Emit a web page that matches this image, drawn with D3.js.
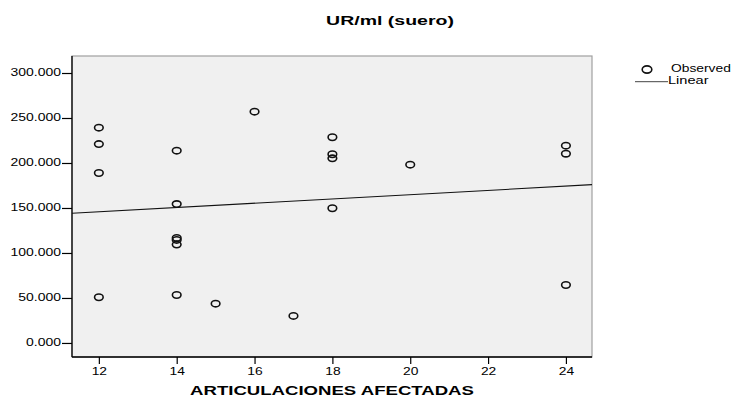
<!DOCTYPE html>
<html>
<head>
<meta charset="utf-8">
<script src="https://cdn.jsdelivr.net/npm/d3@7"></script>
<style>
  html, body { margin: 0; padding: 0; background: #fff; }
  svg { display: block; font-family: "Liberation Sans", Arial, sans-serif; }
</style>
</head>
<body>
<svg id="chart" width="734" height="397"></svg>
<script>
// ---- data ----
const articulaciones = [12, 12, 12, 12, 14, 14, 14, 14, 14, 14, 15, 16, 17, 18, 18, 18, 18, 20, 24, 24, 24];
const urMl = [239.2, 221.0, 188.9, 50.8, 213.7, 154.4, 116.7, 114.5, 109.3, 53.3, 43.7, 257.0, 30.0, 228.6, 209.7, 205.2, 149.7, 198.1, 219.2, 210.3, 64.4];
const xTicks = [12, 14, 16, 18, 20, 22, 24];
const yTicks = [0, 50, 100, 150, 200, 250, 300];
const linearIntercept = 117.2;
const linearSlope = 2.38;
const titleText = "UR/ml (suero)";
const xLabelText = "ARTICULACIONES AFECTADAS";
const legendLabels = ["Observed", "Linear"];

// ---- layout ----
const svg = d3.select("#chart");
const plot = { left: 72, right: 592, top: 56, bottom: 357 };
const xDomain = [11.31, 24.67];
const yDomain = [-15.6, 318.9];
const x = d3.scaleLinear().domain(xDomain).range([plot.left, plot.right]);
const y = d3.scaleLinear().domain(yDomain).range([plot.bottom, plot.top]);

// plot background
svg.append("rect")
  .attr("x", plot.left).attr("y", plot.top)
  .attr("width", plot.right - plot.left).attr("height", plot.bottom - plot.top)
  .attr("fill", "#f0f0f0")
  .attr("stroke", "#a0a0a0").attr("stroke-width", 1.2);

// axes
const fmt = d3.format(".3f");
const yAxis = svg.append("g")
  .attr("transform", `translate(${plot.left},0)`)
  .call(d3.axisLeft(y).tickValues(yTicks).tickFormat(fmt).tickSize(10).tickSizeOuter(0));
yAxis.select(".domain").attr("stroke", "#000").attr("stroke-width", 1.3)
  .attr("d", `M0,${plot.top}V${plot.bottom}`);
yAxis.selectAll(".tick line").attr("stroke", "#000").attr("stroke-width", 1.2);
yAxis.selectAll(".tick text")
  .attr("font-size", 10).attr("fill", "#000")
  .attr("x", 0).attr("dy", "0.22em")
  .attr("transform", "translate(-11,0) scale(1.4,1)");

const xAxis = svg.append("g")
  .attr("transform", `translate(0,${plot.bottom})`)
  .call(d3.axisBottom(x).tickValues(xTicks).tickFormat(d3.format("d")).tickSize(7).tickSizeOuter(0));
xAxis.select(".domain").attr("stroke", "#000").attr("stroke-width", 1.3)
  .attr("d", `M${plot.left},0H${plot.right}`);
xAxis.selectAll(".tick line").attr("stroke", "#000").attr("stroke-width", 1.2);
xAxis.selectAll(".tick text")
  .attr("font-size", 10).attr("fill", "#000")
  .attr("y", 0).attr("dy", 0)
  .attr("transform", "translate(0,18) scale(1.38,1)");

// regression line
const lineGen = d3.line().x(d => x(d)).y(d => y(linearIntercept + linearSlope * d));
svg.append("path")
  .datum(xDomain)
  .attr("d", lineGen)
  .attr("fill", "none").attr("stroke", "#111").attr("stroke-width", 1.1);

// observed points
svg.append("g").selectAll("ellipse")
  .data(d3.zip(articulaciones, urMl))
  .join("ellipse")
  .attr("cx", d => x(d[0])).attr("cy", d => y(d[1]))
  .attr("rx", 4.3).attr("ry", 3.2)
  .attr("fill", "none").attr("stroke", "#111").attr("stroke-width", 1.6);

// title
svg.append("text")
  .attr("transform", "translate(390,25) scale(1.5,1)")
  .attr("text-anchor", "middle")
  .attr("font-size", 13).attr("font-weight", "bold").attr("fill", "#000")
  .text(titleText);

// x label
svg.append("text")
  .attr("transform", `translate(${(plot.left + plot.right) / 2},395) scale(1.43,1)`)
  .attr("text-anchor", "middle")
  .attr("font-size", 13).attr("font-weight", "bold").attr("fill", "#000")
  .text(xLabelText);

// legend
const lg = svg.append("g");
lg.append("ellipse").attr("cx", 647).attr("cy", 69.5).attr("rx", 4.8).attr("ry", 3.6)
  .attr("fill", "none").attr("stroke", "#111").attr("stroke-width", 1.6);
lg.append("text").attr("transform", "translate(671,72.3) scale(1.38,1)")
  .attr("font-size", 10).attr("fill", "#000").text(legendLabels[0]);
lg.append("line").attr("x1", 635).attr("x2", 668).attr("y1", 81.7).attr("y2", 81.7)
  .attr("stroke", "#444").attr("stroke-width", 1);
lg.append("text").attr("transform", "translate(668,84) scale(1.46,1)")
  .attr("font-size", 10).attr("fill", "#000").text(legendLabels[1]);
</script>
</body>
</html>
